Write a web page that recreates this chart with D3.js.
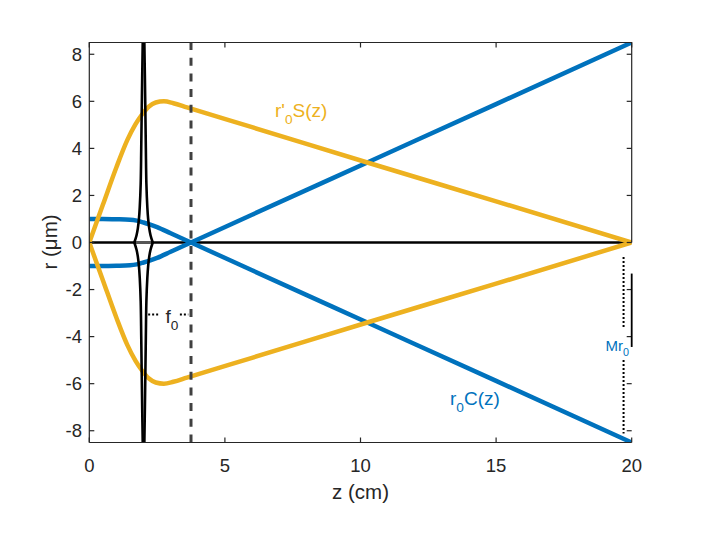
<html>
<head>
<script src="https://d3js.org/d3.v7.min.js"></script>
<style>
body { margin: 0; background: #fff; }
text { font-family: "Liberation Sans", Arial, sans-serif; }
</style>
</head>
<body>
<svg id="chart" width="701" height="534"></svg>
<script>
// axis ticks
var zTicks = [0, 5, 10, 15, 20];
var rTicks = [-8, -6, -4, -2, 0, 2, 4, 6, 8];

// r0 C(z) upper branch (lower branch is its mirror)
var blueZ = [0, 0.5, 1, 1.5, 1.75, 2, 2.25, 2.5, 3, 3.75, 6, 10.25, 15, 20];
var blueR = [1, 1, 0.99, 0.97, 0.93, 0.85, 0.76, 0.654, 0.392, 0, -1.18, -3.4, -5.88, -8.5];

// r'0 S(z) upper branch
var yelZ = [0, 0.5, 1, 1.4, 1.7, 1.95, 2.2, 2.45, 2.75, 3.1, 3.6, 6, 10.25, 15, 20];
var yelR = [0, 1.6, 3.2, 4.35, 5.02, 5.45, 5.78, 5.95, 6.0, 5.92, 5.74, 4.9, 3.4, 1.75, 0];

// lens outline: half width (cm) vs |r|
var lensZ0 = 2.0;
var lensR = [0, 0.3, 0.6, 1, 1.5, 2.5, 4, 5.5, 7, 8.5];
var lensW = [0.34, 0.26, 0.21, 0.17, 0.14, 0.105, 0.085, 0.068, 0.05, 0.03];

// focal plane and annotations
var focusZ = 3.75;
var f0Dots = [[2.17, 2.6], [3.34, 3.65]];
var f0R = -3.06;
var mDots = [[-0.62, -3.59], [-4.99, -8.12]];
var mZ = 19.7;

var blue = "#0072BD", yellow = "#EDB120", ink = "#262626";

var svg = d3.select("#chart");
var x = d3.scaleLinear().domain([0, 20]).range([89.3, 631.7]);
var y = d3.scaleLinear().domain([-8.5, 8.5]).range([442.5, 42.5]);

svg.append("clipPath").attr("id", "clip").append("rect")
  .attr("x", x(0)).attr("y", y(8.5))
  .attr("width", x(20) - x(0)).attr("height", y(-8.5) - y(8.5));

var plot = svg.append("g").attr("clip-path", "url(#clip)");

var lineX = d3.line().x(function (d) { return x(d[0]); })
  .y(function (d) { return y(d[1]); }).curve(d3.curveMonotoneX);
var lineC = d3.line().x(function (d) { return x(d[0]); })
  .y(function (d) { return y(d[1]); }).curve(d3.curveCatmullRom);
var lineL = d3.line().x(function (d) { return x(d[0]); })
  .y(function (d) { return y(d[1]); });

// optical axis
plot.append("path").attr("d", lineL([[0, 0], [20, 0]]))
  .attr("stroke", "#000").attr("stroke-width", 2.4).attr("fill", "none");

[1, -1].forEach(function (s) {
  plot.append("path")
    .attr("d", lineX(blueZ.map(function (z, i) { return [z, s * blueR[i]]; })))
    .attr("stroke", blue).attr("stroke-width", 4.5).attr("fill", "none");
});
[1, -1].forEach(function (s) {
  plot.append("path")
    .attr("d", lineX(yelZ.map(function (z, i) { return [z, s * yelR[i]]; })))
    .attr("stroke", yellow).attr("stroke-width", 4.5).attr("fill", "none");
});

// lens
plot.append("path").attr("d", lineL([[lensZ0 - 0.28, 0], [lensZ0 + 0.28, 0]]))
  .attr("stroke", "#555").attr("stroke-width", 3.2).attr("fill", "none");
[1, -1].forEach(function (side) {
  [1, -1].forEach(function (s) {
    plot.append("path")
      .attr("d", lineC(lensR.map(function (r, i) { return [lensZ0 + side * lensW[i], s * r]; })))
      .attr("stroke", "#000").attr("stroke-width", 2.6).attr("fill", "none");
  });
});

// focal plane
plot.append("path").attr("d", lineL([[focusZ, -8.5], [focusZ, 8.5]]))
  .attr("stroke", "#404040").attr("stroke-width", 3).attr("stroke-dasharray", "8,7.7")
  .attr("fill", "none");

// dotted annotations
f0Dots.forEach(function (d) {
  svg.append("path").attr("d", lineL([[d[0], f0R], [d[1], f0R]]))
    .attr("stroke", "#000").attr("stroke-width", 2).attr("stroke-dasharray", "2,2");
});
mDots.forEach(function (d) {
  svg.append("path").attr("d", lineL([[mZ, d[0]], [mZ, d[1]]]))
    .attr("stroke", "#000").attr("stroke-width", 2).attr("stroke-dasharray", "2,2");
});

// axes box
var axes = svg.append("g").attr("stroke", ink).attr("stroke-width", 1.2).attr("fill", "none");
axes.append("path").attr("d", lineL([[0, -8.5], [0, 8.5], [20, 8.5], [20, 0]]));
axes.append("path").attr("d", lineL([[0, -8.5], [20, -8.5]]));
svg.append("path").attr("d", lineL([[20, -1.32], [20, -4.44]]))
  .attr("stroke", "#000").attr("stroke-width", 1.8);

zTicks.forEach(function (t) {
  axes.append("line").attr("x1", x(t)).attr("x2", x(t)).attr("y1", y(-8.5)).attr("y2", y(-8.5) - 5);
  axes.append("line").attr("x1", x(t)).attr("x2", x(t)).attr("y1", y(8.5)).attr("y2", y(8.5) + 5);
  svg.append("text").attr("x", x(t)).attr("y", 472).attr("text-anchor", "middle")
    .attr("font-size", 18.5).attr("fill", ink).text(t);
});
rTicks.forEach(function (t) {
  axes.append("line").attr("x1", x(0)).attr("x2", x(0) + 5).attr("y1", y(t)).attr("y2", y(t));
  axes.append("line").attr("x1", x(20)).attr("x2", x(20) - 5).attr("y1", y(t)).attr("y2", y(t));
  svg.append("text").attr("x", 82).attr("y", y(t) + 6.5).attr("text-anchor", "end")
    .attr("font-size", 18.5).attr("fill", ink).text(t);
});

svg.append("text").attr("x", 360.5).attr("y", 499).attr("text-anchor", "middle")
  .attr("font-size", 20.5).attr("fill", ink).text("z (cm)");
svg.append("text").attr("transform", "translate(57,242) rotate(-90)")
  .attr("text-anchor", "middle").attr("font-size", 20.5).attr("fill", ink).text("r (\u03bcm)");

function subLabel(px, py, main, sub, rest, size, color) {
  var t = svg.append("text").attr("x", px).attr("y", py).attr("font-size", size).attr("fill", color);
  t.append("tspan").text(main);
  t.append("tspan").attr("dy", size * 0.38).attr("font-size", size * 0.72).text(sub);
  if (rest) t.append("tspan").attr("dy", -size * 0.38).text(rest);
}
subLabel(275, 116.7, "r'", "0", "S(z)", 19, yellow);
subLabel(450, 405, "r", "0", "C(z)", 19, blue);
subLabel(165.5, 323, "f", "0", null, 19, ink);
subLabel(605.5, 350.5, "Mr", "0", null, 15, blue);
</script>
</body>
</html>
